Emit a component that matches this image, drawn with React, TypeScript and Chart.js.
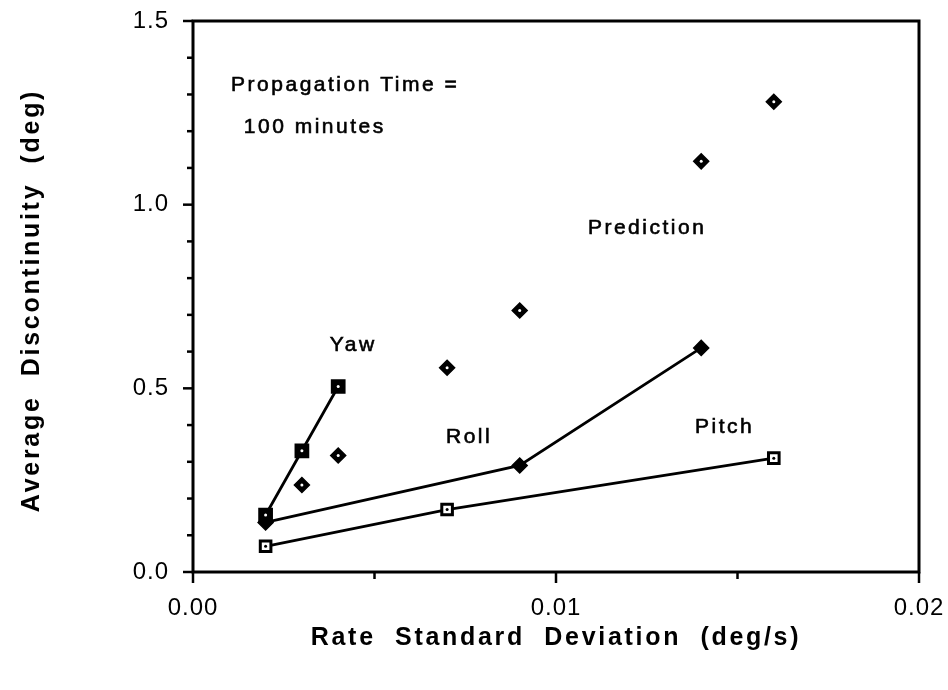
import React, { useEffect, useRef } from "react";
import { Chart, registerables } from "chart.js";

Chart.register(...registerables);

// ---- data ----
const yawX = [0.002, 0.003, 0.004];
const yawY = [0.155, 0.33, 0.505];
const rollX = [0.002, 0.009, 0.014];
const rollY = [0.135, 0.29, 0.61];
const pitchX = [0.002, 0.007, 0.016];
const pitchY = [0.07, 0.17, 0.31];
const predictionX = [0.003, 0.004, 0.007, 0.009, 0.014, 0.016];
const predictionY = [0.237, 0.317, 0.556, 0.712, 1.118, 1.28];

const xMin = 0;
const xMax = 0.02;
const xStep = 0.005;
const yMin = 0;
const yMax = 1.5;
const yStep = 0.1;

const xTitle = "Rate  Standard  Deviation  (deg/s)";
const yTitle = "Average  Discontinuity  (deg)";

const noteTexts = ["Propagation Time =", "100 minutes", "Prediction", "Yaw", "Roll", "Pitch"];
const noteX = [0.00105, 0.0014, 0.01088, 0.00377, 0.00697, 0.01383];
const noteY = [1.325, 1.212, 0.935, 0.617, 0.368, 0.395];

const FONT = '"Liberation Sans", Arial, Helvetica, sans-serif';

const pts = (xs: number[], ys: number[]) => xs.map((x, i) => ({ x, y: ys[i] }));

const framePlugin = {
  id: "frameAndTicks",
  beforeDraw(chart: any) {
    const ctx = chart.ctx;
    ctx.save();
    ctx.fillStyle = "#ffffff";
    ctx.fillRect(0, 0, chart.width, chart.height);
    ctx.restore();
    ctx.letterSpacing = "1px";
  },
  afterDatasetsDraw(chart: any) {
    const ctx = chart.ctx;
    ctx.save();
    chart.data.datasets.forEach((ds: any, i: number) => {
      if (!ds.centerDot) return;
      const meta = chart.getDatasetMeta(i);
      meta.data.forEach((el: any) => {
        ctx.beginPath();
        ctx.fillStyle = ds.centerDot;
        ctx.arc(el.x, el.y, 1.5, 0, Math.PI * 2);
        ctx.fill();
      });
    });
    ctx.restore();
  },
  afterDraw(chart: any) {
    const ctx = chart.ctx;
    const { left, right, top, bottom } = chart.chartArea;
    const xs = chart.scales.x;
    const ys = chart.scales.y;
    ctx.save();
    ctx.strokeStyle = "#000";
    ctx.lineWidth = 3;
    ctx.strokeRect(left, top, right - left, bottom - top);
    ctx.lineWidth = 2.5;
    ys.ticks.forEach((t: any) => {
      const p = ys.getPixelForValue(t.value);
      const major = Math.round(t.value * 10) % 5 === 0;
      const len = major ? 10 : 6;
      ctx.beginPath();
      ctx.moveTo(left - len, p);
      ctx.lineTo(left, p);
      ctx.stroke();
    });
    xs.ticks.forEach((t: any) => {
      const p = xs.getPixelForValue(t.value);
      const major = Math.round(t.value * 1000) % 10 === 0;
      const len = major ? 11 : 7;
      ctx.beginPath();
      ctx.moveTo(p, bottom);
      ctx.lineTo(p, bottom + len);
      ctx.stroke();
    });
    ctx.fillStyle = "#000";
    // annotations
    ctx.font = `21px ${FONT}`;
    ctx.letterSpacing = "2.5px";
    ctx.textAlign = "left";
    ctx.textBaseline = "middle";
    ctx.lineWidth = 0.6;
    noteTexts.forEach((txt, i) => {
      const px = xs.getPixelForValue(noteX[i]);
      const py = ys.getPixelForValue(noteY[i]);
      ctx.fillText(txt, px, py);
      ctx.strokeText(txt, px, py);
    });
    // axis titles
    ctx.font = `bold 25px ${FONT}`;
    ctx.letterSpacing = "2.7px";
    ctx.textAlign = "center";
    ctx.fillText(xTitle, (left + right) / 2, 638);
    ctx.save();
    ctx.translate(32, (top + bottom) / 2 + 4);
    ctx.rotate(-Math.PI / 2);
    ctx.fillText(yTitle, 0, 0);
    ctx.restore();
    ctx.restore();
  },
};

export default function App() {
  const ref = useRef<HTMLCanvasElement | null>(null);

  useEffect(() => {
    document.body.style.margin = "0";
    document.body.style.overflow = "hidden";
    const canvas = ref.current;
    if (!canvas) return;
    Chart.defaults.font.family = FONT;
    Chart.defaults.color = "#000";

    const chart = new Chart(canvas, {
      type: "scatter",
      data: {
        datasets: [
          {
            label: "Yaw",
            data: pts(yawX, yawY),
            showLine: true,
            borderColor: "#000",
            borderWidth: 2.8,
            pointStyle: "rect",
            pointRadius: 9,
            pointBorderWidth: 2,
            pointBackgroundColor: "#000",
            pointBorderColor: "#000",
            centerDot: "#fff",
          } as any,
          {
            label: "Roll",
            data: pts(rollX, rollY),
            showLine: true,
            borderColor: "#000",
            borderWidth: 2.8,
            pointStyle: "rectRot",
            pointRadius: 7.5,
            pointBorderWidth: 1.5,
            pointBackgroundColor: "#000",
            pointBorderColor: "#000",
          } as any,
          {
            label: "Pitch",
            data: pts(pitchX, pitchY),
            showLine: true,
            borderColor: "#000",
            borderWidth: 2.8,
            pointStyle: "rect",
            pointRadius: 7.5,
            pointBorderWidth: 3,
            pointBackgroundColor: "#fff",
            pointBorderColor: "#000",
            centerDot: "#000",
          } as any,
          {
            label: "Prediction",
            data: pts(predictionX, predictionY),
            showLine: false,
            pointStyle: "rectRot",
            pointRadius: 7.5,
            pointBorderWidth: 1.5,
            pointBackgroundColor: "#000",
            pointBorderColor: "#000",
            centerDot: "#fff",
          } as any,
        ],
      },
      options: {
        animation: false,
        responsive: false,
        devicePixelRatio: 1,
        layout: { padding: { left: 0, right: 29, top: 21, bottom: 0 } },
        plugins: {
          legend: { display: false },
          tooltip: { enabled: false },
        },
        scales: {
          x: {
            type: "linear",
            min: xMin,
            max: xMax,
            grid: { display: false },
            border: { display: false },
            ticks: {
              stepSize: xStep,
              maxTicksLimit: 100,
              autoSkip: false,
              maxRotation: 0,
              padding: 14,
              font: { size: 24, family: FONT },
              color: "#000",
              callback: (v: any) => (Math.round(Number(v) * 1000) % 10 === 0 ? Number(v).toFixed(2) : ""),
            },
            title: { display: false },
            afterFit: (s: any) => {
              s.height = 118;
              s.paddingLeft = 0;
              s.paddingRight = 0;
            },
          },
          y: {
            type: "linear",
            min: yMin,
            max: yMax,
            grid: { display: false },
            border: { display: false },
            ticks: {
              stepSize: yStep,
              maxTicksLimit: 100,
              autoSkip: false,
              padding: 16,
              font: { size: 24, family: FONT },
              color: "#000",
              callback: (v: any) => (Math.round(Number(v) * 10) % 5 === 0 ? Number(v).toFixed(1) : ""),
            },
            title: { display: false },
            afterFit: (s: any) => {
              s.width = 193;
              s.paddingTop = 0;
              s.paddingBottom = 0;
            },
          },
        },
      } as any,
      plugins: [framePlugin],
    });
    return () => chart.destroy();
  }, []);

  return <canvas ref={ref} width={948} height={690} style={{ display: "block" }} />;
}
